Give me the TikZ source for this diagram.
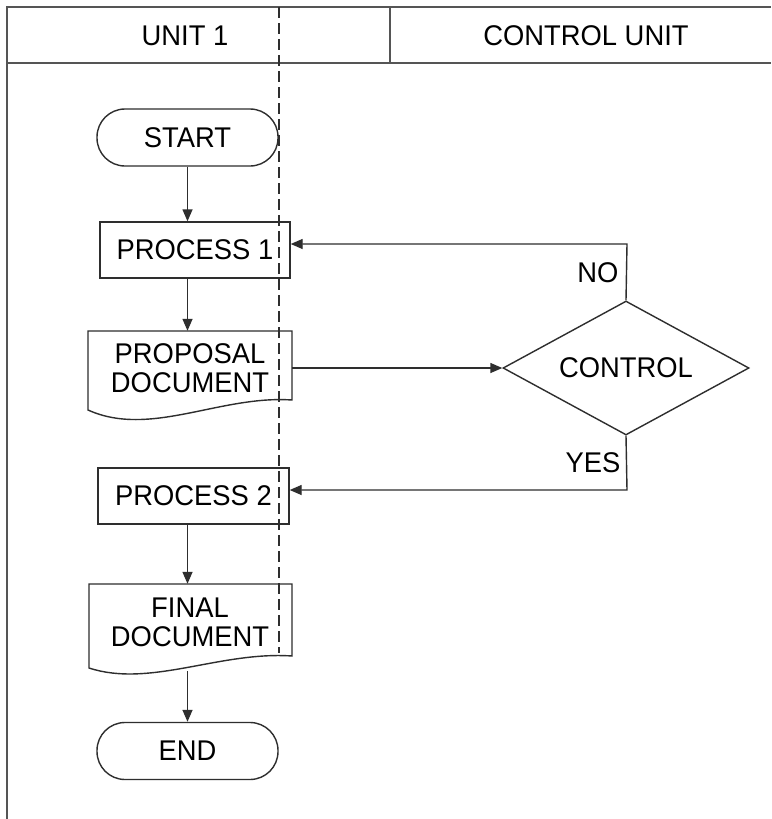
\documentclass[tikz,border=0pt]{standalone}
\usepackage{fontspec}
\setmainfont[FakeStretch=0.96]{Liberation Sans}
\usetikzlibrary{shapes.geometric,arrows.meta}
\definecolor{ln}{HTML}{2e2e2e}
\definecolor{fr}{HTML}{555555}
\begin{document}
\begin{tikzpicture}[x=1pt,y=-1pt,
  every node/.style={font=\fontsize{28.5}{29}\selectfont, text=black, inner sep=0pt, align=center},
  shp/.style={draw=ln, line width=1.4pt},
  termbox/.style={shp, rectangle, rounded corners=28pt, minimum width=181pt, minimum height=57pt},
  procbox/.style={shp, rectangle, minimum width=190pt, minimum height=56pt},
  docbox/.style={rectangle, minimum width=204pt},
  conn/.style={draw=ln, line width=1.4pt},
  arr/.style={conn, -{Triangle[length=12pt,width=10pt]}},
  frame/.style={draw=fr, line width=1.8pt}]
\useasboundingbox (0,0) rectangle (771,819);
\fill[white] (0,0) rectangle (771,819);

% swimlane frame
\draw[frame] (7,819) -- (7,7) -- (771,7);
\draw[frame] (7,63) -- (771,63);
\draw[frame] (390,7) -- (390,63);
\draw[ln, line width=1.2pt, dash pattern=on 11pt off 5pt] (279,7) -- (279,653);

\node (lane1) at (185,36) {UNIT 1};
\node (lane2) at (586,36) {CONTROL UNIT};

% nodes
\node[termbox] (start) at (187.5,137.5) {START};
\node[procbox] (p1) at (195,250) {PROCESS 1};
\node[docbox, minimum height=74pt] (doc1) at (190,368) {PROPOSAL\\DOCUMENT};
\draw[shp] (88,331) -- (292,331) -- (292,400) .. controls (220,395) and (150,438) .. (88,410) -- cycle;
\node[shp, diamond, minimum width=246pt, minimum height=134pt, label={center:CONTROL}] (ctl) at (626,368) {};
\node[procbox, minimum width=191pt] (p2) at (193.5,496) {PROCESS 2};
\node[docbox, minimum height=76pt] (doc2) at (190,622) {FINAL\\DOCUMENT};
\draw[shp] (89,584) -- (292,584) -- (292,656) .. controls (220,651) and (150,688) .. (89,668) -- cycle;
\node[termbox] (end) at (187.5,751) {END};

\coordinate (noturn) at (627,244);
\coordinate (yesturn) at (627,490);
\coordinate (d2b) at (187.5,671);

% connectors
\draw[arr] (start.south) -- (start.south |- p1.north);
\draw[arr] (p1.south -| start.south) -- (doc1.north -| start.south);
\draw[arr] (doc1.east) -- (doc1.east -| ctl.west);
\draw[arr] (ctl.north) -- (noturn) -- (noturn -| p1.east);
\draw[arr] (ctl.south) -- (yesturn) -- (yesturn -| p2.east);
\draw[arr] (p2.south -| start.south) -- (doc2.north -| start.south);
\draw[arr] (d2b) -- (end.north);

\node (no) at (598,273) {NO};
\node (yes) at (593,463) {YES};
\end{tikzpicture}
\end{document}
